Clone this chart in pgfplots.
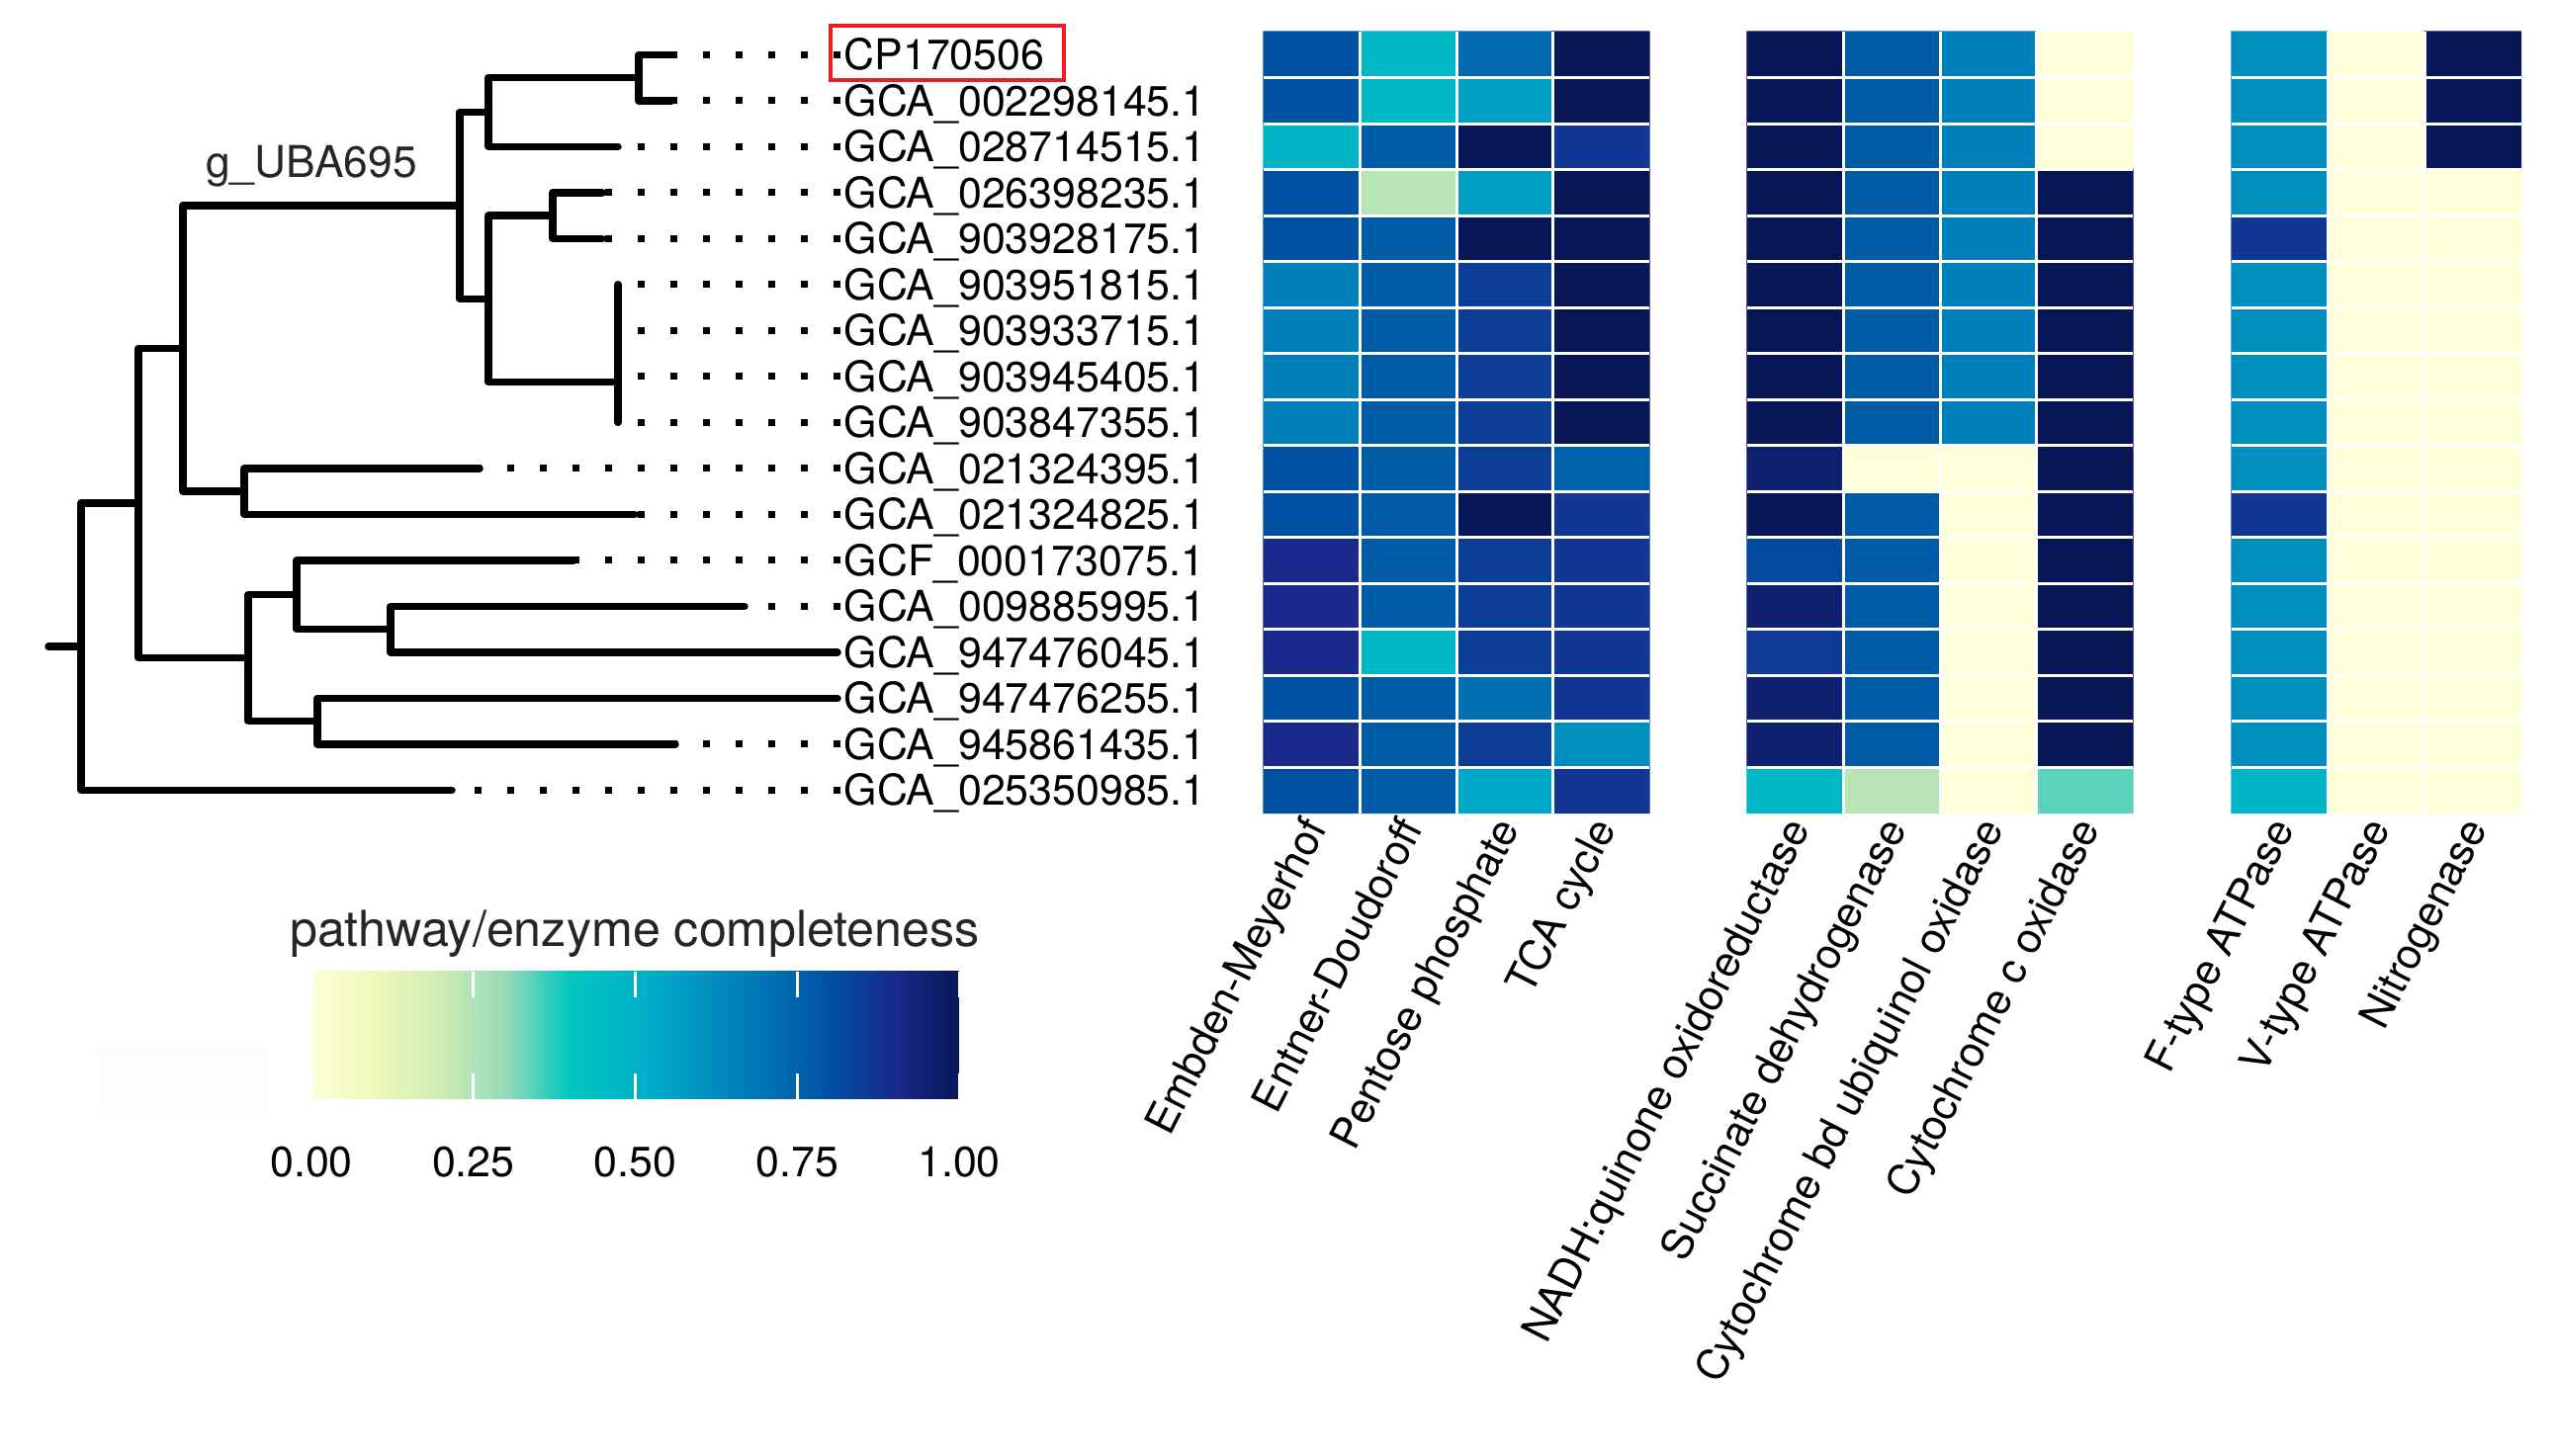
\documentclass[border=0pt]{standalone}
\usepackage{fontspec}
\setmainfont{TeX Gyre Heros}
\usepackage{pgfplots}
\pgfplotsset{compat=1.18}
\usepackage{pgfplotstable}
\usetikzlibrary{calc}

\pgfplotsset{colormap={ylgnbu}{rgb255=(255,255,217) rgb255=(237,248,185) rgb255=(205,236,180)
  rgb255=(150,218,186) rgb255=(0,198,190) rgb255=(0,178,200) rgb255=(0,148,194)
  rgb255=(0,115,180) rgb255=(0,80,162) rgb255=(25,42,140) rgb255=(6,22,86)}}

\newcommand{\lab}{\fontsize{12.2}{14}\selectfont}
\definecolor{boxred}{RGB}{236,28,36}

% pathways: Embden, Entner, Pentose, TCA
\pgfplotstableread{
r c v
0 0 0.80
0 1 0.47
0 2 0.73
0 3 1.00
1 0 0.80
1 1 0.47
1 2 0.56
1 3 1.00
2 0 0.48
2 1 0.77
2 2 1.00
2 3 0.87
3 0 0.80
3 1 0.24
3 2 0.56
3 3 1.00
4 0 0.80
4 1 0.77
4 2 1.00
4 3 1.00
5 0 0.66
5 1 0.77
5 2 0.85
5 3 1.00
6 0 0.66
6 1 0.77
6 2 0.85
6 3 1.00
7 0 0.66
7 1 0.77
7 2 0.85
7 3 1.00
8 0 0.66
8 1 0.77
8 2 0.85
8 3 1.00
9 0 0.80
9 1 0.77
9 2 0.85
9 3 0.75
10 0 0.80
10 1 0.77
10 2 1.00
10 3 0.87
11 0 0.90
11 1 0.77
11 2 0.85
11 3 0.87
12 0 0.90
12 1 0.77
12 2 0.85
12 3 0.87
13 0 0.90
13 1 0.47
13 2 0.85
13 3 0.87
14 0 0.80
14 1 0.77
14 2 0.71
14 3 0.87
15 0 0.90
15 1 0.77
15 2 0.85
15 3 0.62
16 0 0.80
16 1 0.77
16 2 0.54
16 3 0.87
}\hmone

% respiration: NADH, succinate, cyt bd, cyt c
\pgfplotstableread{
r c v
0 0 1.00
0 1 0.77
0 2 0.66
0 3 0.00
1 0 1.00
1 1 0.77
1 2 0.66
1 3 0.00
2 0 1.00
2 1 0.77
2 2 0.66
2 3 0.00
3 0 1.00
3 1 0.77
3 2 0.66
3 3 1.00
4 0 1.00
4 1 0.77
4 2 0.66
4 3 1.00
5 0 1.00
5 1 0.77
5 2 0.66
5 3 1.00
6 0 1.00
6 1 0.77
6 2 0.66
6 3 1.00
7 0 1.00
7 1 0.77
7 2 0.66
7 3 1.00
8 0 1.00
8 1 0.77
8 2 0.66
8 3 1.00
9 0 0.95
9 1 0.00
9 2 0.00
9 3 1.00
10 0 1.00
10 1 0.77
10 2 0.00
10 3 1.00
11 0 0.82
11 1 0.77
11 2 0.00
11 3 1.00
12 0 0.95
12 1 0.77
12 2 0.00
12 3 1.00
13 0 0.86
13 1 0.77
13 2 0.00
13 3 1.00
14 0 0.95
14 1 0.77
14 2 0.00
14 3 1.00
15 0 0.95
15 1 0.77
15 2 0.00
15 3 1.00
16 0 0.47
16 1 0.24
16 2 0.00
16 3 0.34
}\hmtwo

% F-type, V-type, nitrogenase
\pgfplotstableread{
r c v
0 0 0.62
0 1 0.00
0 2 1.00
1 0 0.62
1 1 0.00
1 2 1.00
2 0 0.62
2 1 0.00
2 2 1.00
3 0 0.62
3 1 0.00
3 2 0.00
4 0 0.87
4 1 0.00
4 2 0.00
5 0 0.62
5 1 0.00
5 2 0.00
6 0 0.62
6 1 0.00
6 2 0.00
7 0 0.62
7 1 0.00
7 2 0.00
8 0 0.62
8 1 0.00
8 2 0.00
9 0 0.62
9 1 0.00
9 2 0.00
10 0 0.87
10 1 0.00
10 2 0.00
11 0 0.62
11 1 0.00
11 2 0.00
12 0 0.62
12 1 0.00
12 2 0.00
13 0 0.62
13 1 0.00
13 2 0.00
14 0 0.62
14 1 0.00
14 2 0.00
15 0 0.62
15 1 0.00
15 2 0.00
16 0 0.48
16 1 0.00
16 2 0.00
}\hmthree

\begin{document}
\begin{tikzpicture}
\begin{axis}[
  scale only axis, width=258.4mm, height=147.2mm,
  xmin=0, xmax=2584, ymin=0, ymax=1472, y dir=reverse,
  hide axis, clip=false,
  colormap name=ylgnbu, point meta min=0, point meta max=1,
  colorbar horizontal, colorbar/width=12.9mm,
  colorbar style={
    at={($(parent axis.north west)+(31.5mm,-95.3mm)$)}, anchor=north west,
    scale only axis, width=65.5mm,
    axis on top, axis line style={draw=none},
    xtick={0,0.25,0.5,0.75,1}, xticklabels={0.00,0.25,0.50,0.75,1.00},
    xticklabel style={font=\lab, yshift=-3.6mm},
    tick align=inside, major tick length=2.6mm,
    xtick style={white, line width=0.3mm},
    ytick=\empty,
  },
]
% heatmaps
\addplot[matrix plot*, mesh/cols=4, point meta=explicit]
  table[x expr={1278+97.5*(\thisrow{c}+0.5)}, y expr={32+46.5*(\thisrow{r}+0.5)}, meta=v] {\hmone};
\addplot[matrix plot*, mesh/cols=4, point meta=explicit]
  table[x expr={1767+97.5*(\thisrow{c}+0.5)}, y expr={32+46.5*(\thisrow{r}+0.5)}, meta=v] {\hmtwo};
\addplot[matrix plot*, mesh/cols=3, point meta=explicit]
  table[x expr={2257+97.5*(\thisrow{c}+0.5)}, y expr={32+46.5*(\thisrow{r}+0.5)}, meta=v] {\hmthree};

% white cell borders
\pgfplotsinvokeforeach{1,...,16}{
  \draw[white, line width=0.3mm] (axis cs:1278,{32+46.5*#1}) -- (axis cs:1668,{32+46.5*#1})
    (axis cs:1767,{32+46.5*#1}) -- (axis cs:2157,{32+46.5*#1})
    (axis cs:2257,{32+46.5*#1}) -- (axis cs:2549.5,{32+46.5*#1});
}
\pgfplotsinvokeforeach{1,2,3}{
  \draw[white, line width=0.3mm] (axis cs:{1278+97.5*#1},32) -- (axis cs:{1278+97.5*#1},822.5)
    (axis cs:{1767+97.5*#1},32) -- (axis cs:{1767+97.5*#1},822.5);
}
\pgfplotsinvokeforeach{1,2}{
  \draw[white, line width=0.3mm] (axis cs:{2257+97.5*#1},32) -- (axis cs:{2257+97.5*#1},822.5);
}

% tree
\addplot[black, line width=0.75mm, line cap=round, line join=round, unbounded coords=jump] coordinates {
 (49,654.2) (82,654.2) (nan,nan)
 (140,509.05) (82,509.05) (82,799.3) (457,799.3) (nan,nan)
 (185,352.5) (140,352.5) (140,665.6) (251,665.6) (nan,nan)
 (465,207.9) (185,207.9) (185,497.05) (247,497.05) (nan,nan)
 (300,601.7) (251,601.7) (251,729.55) (321,729.55) (nan,nan)
 (494,113.4) (465,113.4) (465,302.3) (494,302.3) (nan,nan)
 (485,473.8) (247,473.8) (247,520.3) (642,520.3) (nan,nan)
 (646,78.55) (494,78.55) (494,148.3) (625,148.3) (nan,nan)
 (679,55.3) (646,55.3) (646,101.8) (679,101.8) (nan,nan)
 (559,218.05) (494,218.05) (494,386.6) (625,386.6) (nan,nan)
 (609,194.8) (559,194.8) (559,241.3) (609,241.3) (nan,nan)
 (625,287.8) (625,427.3) (nan,nan)
 (580,566.8) (300,566.8) (300,636.55) (395,636.55) (nan,nan)
 (753,613.3) (395,613.3) (395,659.8) (847,659.8) (nan,nan)
 (847,706.3) (321,706.3) (321,752.8) (683,752.8)
};
% dotted tip extensions
\addplot[black, line width=0.7mm, dash pattern=on 0.7mm off 2.6mm, unbounded coords=jump] coordinates {
 (850,55.3) (679,55.3) (nan,nan)
 (850,101.8) (679,101.8) (nan,nan)
 (850,148.3) (625,148.3) (nan,nan)
 (850,194.8) (609,194.8) (nan,nan)
 (850,241.3) (609,241.3) (nan,nan)
 (850,287.8) (625,287.8) (nan,nan)
 (850,334.3) (625,334.3) (nan,nan)
 (850,380.8) (625,380.8) (nan,nan)
 (850,427.3) (625,427.3) (nan,nan)
 (850,473.8) (485,473.8) (nan,nan)
 (850,520.3) (642,520.3) (nan,nan)
 (850,566.8) (580,566.8) (nan,nan)
 (850,613.3) (753,613.3) (nan,nan)
 (850,752.8) (683,752.8) (nan,nan)
 (850,799.3) (457,799.3)
};

\node[font=\fontsize{12.6}{14}\selectfont, text=black!85] at (axis cs:315,168) {g\_UBA695};

% tip labels
\begin{scope}[every node/.style={anchor=base west, inner sep=0pt, font=\lab}]
\node at (axis cs:853,70.8) {CP170506};
\node at (axis cs:853,117.3) {GCA\_002298145.1};
\node at (axis cs:853,163.8) {GCA\_028714515.1};
\node at (axis cs:853,210.3) {GCA\_026398235.1};
\node at (axis cs:853,256.8) {GCA\_903928175.1};
\node at (axis cs:853,303.3) {GCA\_903951815.1};
\node at (axis cs:853,349.8) {GCA\_903933715.1};
\node at (axis cs:853,396.3) {GCA\_903945405.1};
\node at (axis cs:853,442.8) {GCA\_903847355.1};
\node at (axis cs:853,489.3) {GCA\_021324395.1};
\node at (axis cs:853,535.8) {GCA\_021324825.1};
\node at (axis cs:853,582.3) {GCF\_000173075.1};
\node at (axis cs:853,628.8) {GCA\_009885995.1};
\node at (axis cs:853,675.3) {GCA\_947476045.1};
\node at (axis cs:853,721.8) {GCA\_947476255.1};
\node at (axis cs:853,768.3) {GCA\_945861435.1};
\node at (axis cs:853,814.8) {GCA\_025350985.1};
\end{scope}
\draw[boxred, line width=0.35mm] (axis cs:840,26) rectangle (axis cs:1076,81);

% column labels
\begin{scope}[every node/.style={rotate=63, anchor=north east, font=\lab}]
\node at (axis cs:1309,807) {Embden-Meyerhof};
\node at (axis cs:1406,807) {Entner-Doudoroff};
\node at (axis cs:1504,807) {Pentose phosphate};
\node at (axis cs:1601,807) {TCA cycle};
\node at (axis cs:1798,807) {NADH:quinone oxidoreductase};
\node at (axis cs:1895,807) {Succinate dehydrogenase};
\node at (axis cs:1993,807) {Cytochrome bd ubiquinol oxidase};
\node at (axis cs:2090,807) {Cytochrome c oxidase};
\node at (axis cs:2288,807) {F-type ATPase};
\node at (axis cs:2385,807) {V-type ATPase};
\node at (axis cs:2483,807) {Nitrogenase};
\end{scope}

% legend title and faint key box
\node[font=\fontsize{14.3}{16}\selectfont, text=black!85] at (axis cs:642,945) {pathway/enzyme completeness};
\fill[black!1] (axis cs:98,1060) rectangle (axis cs:273,1127);

\path (axis cs:0,0) rectangle (axis cs:2584,1472);
\end{axis}
\end{tikzpicture}
\end{document}
